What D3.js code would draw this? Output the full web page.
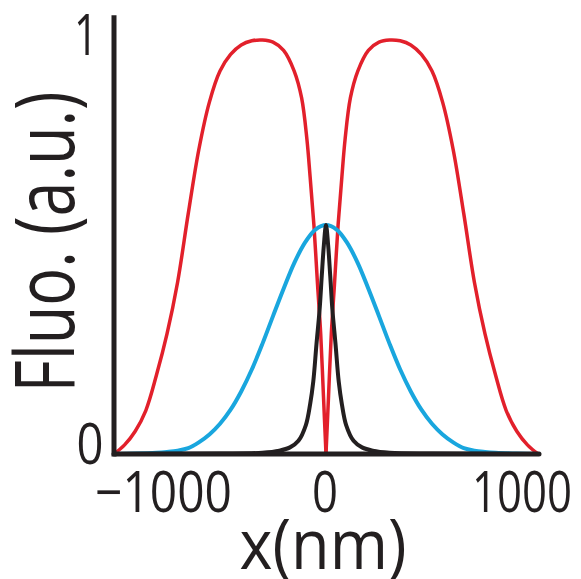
<!DOCTYPE html>
<html>
<head>
<meta charset="utf-8">
<script src="https://cdn.jsdelivr.net/npm/d3@7"></script>
<style>
  html, body { margin: 0; padding: 0; background: #fff; }
  svg { display: block; }
  text { font-family: "Open Sans", "DejaVu Sans", sans-serif; fill: #231f20; }
</style>
</head>
<body>
<svg id="chart" width="581" height="579"></svg>
<script>
// Profile positions (nm) and normalised fluorescence values.
const redX = [-1000, -950, -900, -850, -800, -750, -700, -650, -600, -550, -500, -450, -400, -350, -300, -250, -200, -150, -115, -90, -75, -57, -40, -25, -12, 0,
              12, 25, 40, 57, 75, 90, 115, 150, 200, 250, 300, 350, 400, 450, 500, 550, 600, 650, 700, 750, 800, 850, 900, 950, 1000];
const redY = [0, 0.022, 0.055, 0.105, 0.19, 0.29, 0.415, 0.58, 0.735, 0.85, 0.925, 0.965, 0.988, 0.998, 1.0, 0.995, 0.975, 0.925, 0.86, 0.76, 0.67, 0.553, 0.41, 0.29, 0.14, 0,
              0.14, 0.29, 0.41, 0.553, 0.67, 0.76, 0.86, 0.925, 0.975, 0.995, 1.0, 0.998, 0.988, 0.965, 0.925, 0.85, 0.735, 0.58, 0.415, 0.29, 0.19, 0.105, 0.055, 0.022, 0];

const blueX = [-1000, -900, -800, -750, -700, -650, -600, -550, -500, -450, -400, -350, -300, -250, -200, -150, -100, -50, 0,
               50, 100, 150, 200, 250, 300, 350, 400, 450, 500, 550, 600, 650, 700, 750, 800, 900, 1000];
const blueY = [0, 0.001, 0.003, 0.005, 0.008, 0.014, 0.028, 0.047, 0.073, 0.107, 0.151, 0.204, 0.266, 0.333, 0.399, 0.461, 0.51, 0.542, 0.553,
               0.542, 0.51, 0.461, 0.399, 0.333, 0.266, 0.204, 0.151, 0.107, 0.073, 0.047, 0.028, 0.014, 0.008, 0.005, 0.003, 0.001, 0];

const blackX = [-1000, -500, -300, -220, -170, -130, -95, -75, -60, -45, -30, -20, -10, 0,
                10, 20, 30, 45, 60, 75, 95, 130, 170, 220, 300, 500, 1000];
const blackY = [0, 0.001, 0.003, 0.008, 0.016, 0.032, 0.07, 0.12, 0.175, 0.265, 0.35, 0.43, 0.505, 0.553,
                0.505, 0.43, 0.35, 0.265, 0.175, 0.12, 0.07, 0.032, 0.016, 0.008, 0.003, 0.001, 0];

const xTicks = [-1000, 0, 1000];
const xTickLabels = ["\u22121000", "0", "1000"];
const yTicks = [0, 1];
const yTickLabels = ["0", "1"];
const xTitle = "x(nm)";
const yTitle = "Fluo. (a.u.)";

const svg = d3.select("#chart");
const x = d3.scaleLinear().domain([-1000, 1000]).range([114, 538]);
const y = d3.scaleLinear().domain([0, 1]).range([454, 40]);

const zip = (xs, ys) => xs.map((v, i) => [v, ys[i]]);
const line = d3.line().x(d => x(d[0])).y(d => y(d[1])).curve(d3.curveCatmullRom.alpha(0.5));

// The depletion profile has a sharp zero at the centre, so each side is a separate smooth path.
const red = zip(redX, redY);
const series = [
  { pts: red.filter(d => d[0] <= 0), color: "#e2202b", width: 3.5 },
  { pts: red.filter(d => d[0] >= 0), color: "#e2202b", width: 3.5 },
  { pts: zip(blueX, blueY), color: "#19a6de", width: 4 },
  { pts: zip(blackX, blackY), color: "#231f20", width: 4 }
];

svg.append("g").selectAll("path").data(series).join("path")
  .attr("d", d => line(d.pts))
  .attr("fill", "none")
  .attr("stroke", d => d.color)
  .attr("stroke-width", d => d.width)
  .attr("stroke-linejoin", "round");

// Axis lines
const axisG = svg.append("g").attr("stroke", "#231f20").attr("stroke-width", 5);
axisG.append("line")
  .attr("x1", x(-1000)).attr("x2", x(-1000))
  .attr("y1", y(1.06)).attr("y2", y(0) + 2.5);
axisG.append("line")
  .attr("x1", x(-1000)).attr("x2", x(1000) + 1)
  .attr("y1", y(0)).attr("y2", y(0))
  .attr("stroke-linecap", "round");

// Tick labels
const xLab = svg.append("g").attr("font-size", 56);
xLab.selectAll("text").data(xTicks).join("text")
  .attr("x", (d, i) => i === 0 ? x(d) - 19 : i === 2 ? x(d) + 34 : x(d) - 1)
  .attr("y", 512)
  .attr("text-anchor", (d, i) => i === 0 ? "start" : i === 2 ? "end" : "middle")
  .attr("textLength", (d, i) => [137, 26, 100][i])
  .attr("lengthAdjust", "spacingAndGlyphs")
  .text((d, i) => xTickLabels[i]);

const yLab = svg.append("g").attr("font-size", 56);
yLab.selectAll("text").data(yTicks).join("text")
  .attr("x", (d, i) => i === 0 ? 90 : 86)
  .attr("y", d => d === 0 ? y(d) + 10 : y(d) + 15)
  .attr("text-anchor", "middle")
  .attr("textLength", (d, i) => [27, 24][i])
  .attr("lengthAdjust", "spacingAndGlyphs")
  .text((d, i) => yTickLabels[i]);

// Axis titles
svg.append("text")
  .attr("x", 323).attr("y", 569)
  .attr("text-anchor", "middle")
  .attr("font-size", 70)
  .attr("textLength", 167)
  .attr("lengthAdjust", "spacingAndGlyphs")
  .text(xTitle);

svg.append("text")
  .attr("transform", "translate(74,242) rotate(-90)")
  .attr("text-anchor", "middle")
  .attr("font-size", 82)
  .attr("textLength", 301)
  .attr("lengthAdjust", "spacingAndGlyphs")
  .text(yTitle);
</script>
</body>
</html>
